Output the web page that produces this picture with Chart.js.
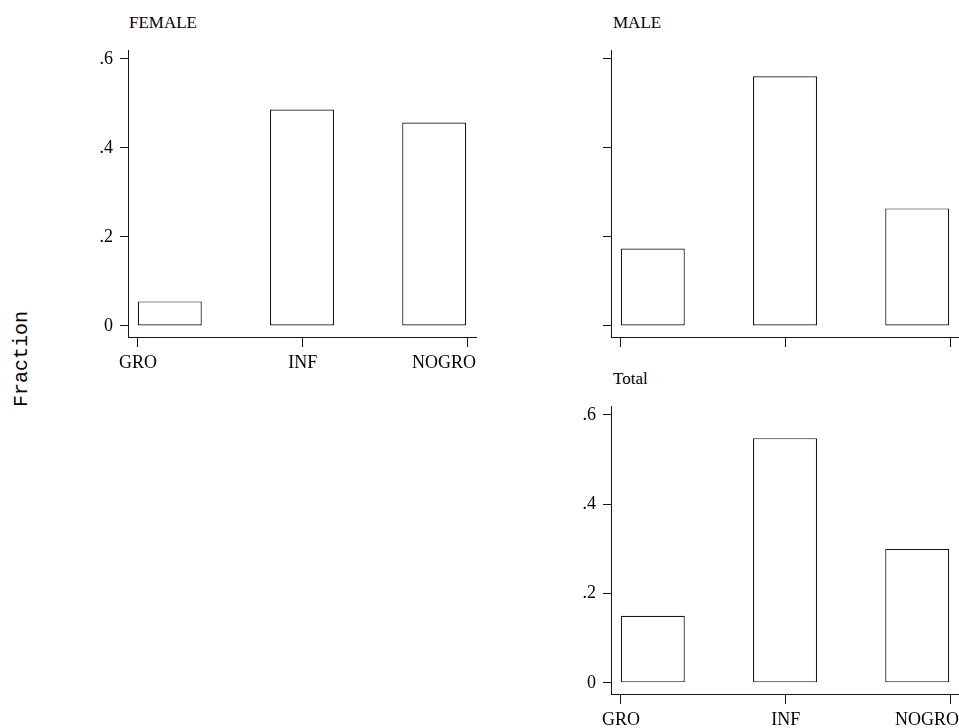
<!DOCTYPE html>
<html>
<head>
<meta charset="utf-8">
<script src="https://cdn.jsdelivr.net/npm/chart.js@4/dist/chart.umd.min.js"></script>
<style>
  html, body { margin: 0; padding: 0; background: #fff; overflow: hidden; width: 959px; height: 728px; }
  canvas { position: absolute; }
  .ptitle { position: absolute; font-family: "Liberation Serif", "Times New Roman", serif; font-size: 17px; color: #000; line-height: 20px; white-space: nowrap; }
  #ylab { position: absolute; left: 21px; top: 359px; transform: translate(-50%, -50%) rotate(-90deg);
          font-family: "Liberation Mono", "DejaVu Sans Mono", monospace; font-size: 20px; color: #000; white-space: nowrap; }
</style>
</head>
<body>
<div class="ptitle" style="left:129px; top:13px;">FEMALE</div>
<div class="ptitle" style="left:613px; top:13px;">MALE</div>
<div class="ptitle" style="left:613px; top:369px;">Total</div>
<div id="ylab">Fraction</div>

<canvas id="cFemale" width="500" height="360" style="left:40px; top:30px;"></canvas>
<canvas id="cMale" width="500" height="360" style="left:523px; top:30px;"></canvas>
<canvas id="cTotal" width="500" height="361" style="left:523px; top:386px;"></canvas>

<script>
// ---- data ----
const categories = ["GRO", "INF", "NOGRO"];
const categoryValues = [1, 2, 3];
const femaleValues = [0.055, 0.486, 0.457];
const maleValues = [0.174, 0.561, 0.264];
const totalValues = [0.150, 0.548, 0.300];
const yTickValues = [0, 0.2, 0.4, 0.6];
const yTickLabels = ["0", ".2", ".4", ".6"];
const panelTitles = ["FEMALE", "MALE", "Total"];

// ---- styling ----
const INK = "#161616";
const SERIF = "'Liberation Serif', 'Times New Roman', serif";

// keep the last x label inside the axis (right-aligned to the axis end), as in the original
const lastLabelInside = {
  id: "lastLabelInside",
  beforeDraw(chart) {
    const s = chart.scales.x;
    const items = s.getLabelItems();
    if (!items.length) return;
    const last = items[items.length - 1];
    last.options.textAlign = "right";
    last.options.translation[0] = s.right;
  }
};

function makePanel(id, values, showYLabels, showXLabels) {
  const ctx = document.getElementById(id).getContext("2d");
  return new Chart(ctx, {
    type: "bar",
    data: {
      datasets: [{
        data: categoryValues.map((c, i) => ({ x: c, y: values[i] })),
        xAxisID: "xb",
        yAxisID: "y",
        backgroundColor: "#ffffff",
        borderColor: INK,
        borderWidth: 1.2,
        borderSkipped: false,
        categoryPercentage: 1,
        barPercentage: 0.484
      }]
    },
    plugins: [lastLabelInside],
    options: {
      responsive: false,
      animation: false,
      events: [],
      layout: { padding: { top: 20, right: 64, bottom: 0, left: 0 } },
      plugins: { legend: { display: false }, tooltip: { enabled: false }, title: { display: false } },
      scales: {
        xb: {
          type: "linear", display: false, offset: false,
          min: 0.684, max: 3.316,
          afterBuildTicks: (s) => { s.ticks = categoryValues.map(v => ({ value: v })); }
        },
        x: {
          type: "linear", position: "bottom", offset: false,
          min: 0.94, max: 3.05,
          afterBuildTicks: (s) => { s.ticks = categoryValues.map(v => ({ value: v })); },
          afterFit: (s) => { s.height = 53; },
          border: { display: true, color: INK, width: 1 },
          grid: { display: true, offset: false, drawOnChartArea: false, drawTicks: true, tickLength: 10, color: INK, lineWidth: 1 },
          ticks: {
            autoSkip: false, maxRotation: 0, minRotation: 0, padding: 5,
            color: "#000",
            font: { family: SERIF, size: 18 },
            callback: (v) => showXLabels ? (categories[categoryValues.indexOf(v)] ?? "") : ""
          }
        },
        y: {
          type: "linear", position: "left",
          min: -0.025, max: 0.62,
          afterBuildTicks: (s) => { s.ticks = yTickValues.map(v => ({ value: v })); },
          afterFit: (s) => { s.width = 88; },
          border: { display: true, color: INK, width: 1 },
          grid: { display: true, drawOnChartArea: false, drawTicks: true, tickLength: 8, color: INK, lineWidth: 1 },
          ticks: {
            autoSkip: false, padding: 7,
            color: "#000",
            font: { family: SERIF, size: 18 },
            callback: (v) => showYLabels ? (yTickLabels[yTickValues.indexOf(v)] ?? "") : ""
          }
        }
      }
    }
  });
}

makePanel("cFemale", femaleValues, true, true);
makePanel("cMale", maleValues, false, false);
makePanel("cTotal", totalValues, true, true);
</script>
</body>
</html>
